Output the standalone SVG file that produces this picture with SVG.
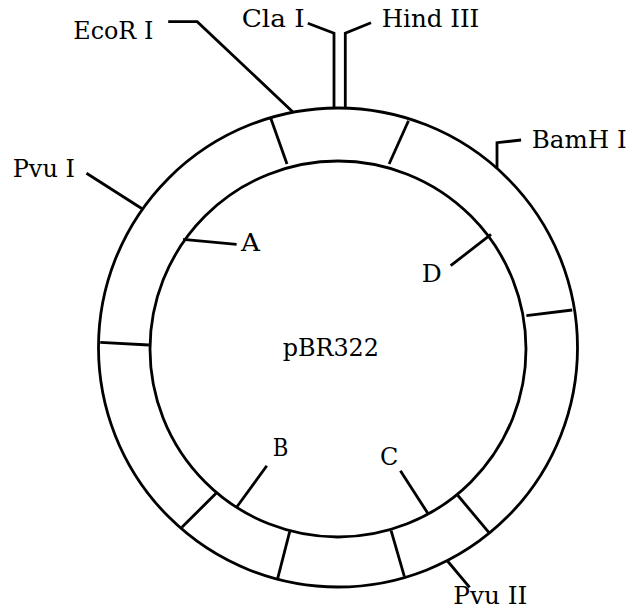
<svg xmlns="http://www.w3.org/2000/svg" width="631" height="615" viewBox="0 0 631 615">
<style>
.ring{fill:none;stroke:#000;stroke-width:2.8}
.ln{fill:none;stroke:#000;stroke-width:2.8;stroke-linejoin:miter}
.lbl{font-family:"DejaVu Serif","Liberation Serif",serif;font-size:24px;fill:#000}
</style>
<rect width="631" height="615" fill="#fff"/>
<g id="plasmid">
<circle class="ring" cx="338" cy="347.5" r="239.5"/>
<circle class="ring" cx="338" cy="349" r="188"/>
</g>
<g id="dividers">
<line class="ln" x1="270.4" y1="117.3" x2="287" y2="164"/>
<line class="ln" x1="408.5" y1="120.7" x2="389.1" y2="164"/>
<line class="ln" x1="526.4" y1="315.7" x2="572.2" y2="310"/>
<line class="ln" x1="100.2" y1="342.3" x2="148.9" y2="345"/>
<line class="ln" x1="216.1" y1="493.3" x2="181.9" y2="527.3"/>
<line class="ln" x1="289.7" y1="531.7" x2="277.7" y2="578.3"/>
<line class="ln" x1="391.1" y1="530.7" x2="404.4" y2="576.7"/>
<line class="ln" x1="457.5" y1="495" x2="489" y2="532.7"/>
</g>
<g id="connectors">
<polyline class="ln" points="168.2,21.7 197.2,21.7 292.6,111.7"/>
<polyline class="ln" points="307.8,23.3 334,33.3 334,107.7"/>
<polyline class="ln" points="371,22.7 345.3,33.3 345.3,107.7"/>
<polyline class="ln" points="521.1,140 497,142.7 497,168.3"/>
<line class="ln" x1="86.5" y1="173.3" x2="142.9" y2="209.3"/>
<line class="ln" x1="183.1" y1="239.3" x2="236.6" y2="244.3"/>
<line class="ln" x1="491" y1="234.3" x2="450.7" y2="265.7"/>
<line class="ln" x1="236.6" y1="507.3" x2="266.8" y2="465.7"/>
<line class="ln" x1="427.8" y1="513.3" x2="400.4" y2="470.7"/>
<line class="ln" x1="447.5" y1="561" x2="469.6" y2="587.3"/>
</g>
<g id="label-ecori"><text class="lbl" x="73.3" y="39.3" textLength="80" lengthAdjust="spacingAndGlyphs">EcoR I</text></g>
<g id="label-clai"><text class="lbl" x="241.7" y="26.7" textLength="63" lengthAdjust="spacingAndGlyphs">Cla I</text></g>
<g id="label-hindiii"><text class="lbl" x="381.7" y="26.7" textLength="97.6" lengthAdjust="spacingAndGlyphs">Hind III</text></g>
<g id="label-bamhi"><text class="lbl" x="531.7" y="148.3" textLength="95" lengthAdjust="spacingAndGlyphs">BamH I</text></g>
<g id="label-pvui"><text class="lbl" x="12.7" y="176.7" textLength="62.3" lengthAdjust="spacingAndGlyphs">Pvu I</text></g>
<g id="label-a"><text class="lbl" x="241" y="251" textLength="19" lengthAdjust="spacingAndGlyphs">A</text></g>
<g id="label-d"><text class="lbl" x="421.7" y="282.3" textLength="20" lengthAdjust="spacingAndGlyphs">D</text></g>
<g id="label-pbr322"><text class="lbl" x="282.7" y="356" textLength="96.3" lengthAdjust="spacingAndGlyphs">pBR322</text></g>
<g id="label-b"><text class="lbl" x="272.7" y="456" textLength="15.6" lengthAdjust="spacingAndGlyphs">B</text></g>
<g id="label-c"><text class="lbl" x="380" y="465" textLength="18.3" lengthAdjust="spacingAndGlyphs">C</text></g>
<g id="label-pvuii"><text class="lbl" x="453.3" y="604.3" textLength="74" lengthAdjust="spacingAndGlyphs">Pvu II</text></g>
</svg>
